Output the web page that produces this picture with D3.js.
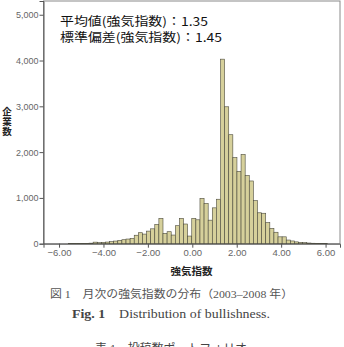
<!DOCTYPE html>
<html><head><meta charset="utf-8">
<script src="https://cdn.jsdelivr.net/npm/d3@7"></script>
<style>
html,body{margin:0;padding:0;background:#fff;overflow:hidden;}
svg{display:block;}
</style></head>
<body>
<svg id="chart" width="344" height="347"></svg>
<script>
// ---- data ----
const binWidth = 0.185;
const binLow = [
  -5.575,-5.390,-5.205,-5.020,-4.835,-4.650,-4.465,-4.280,-4.095,-3.910,
  -3.725,-3.540,-3.355,-3.170,-2.985,-2.800,-2.615,-2.430,-2.245,-2.060,
  -1.875,-1.690,-1.505,-1.320,-1.135,-0.950,-0.765,-0.580,-0.395,-0.210,
  -0.025,0.160,0.345,0.530,0.715,0.900,1.085,1.270,1.455,1.640,
  1.825,2.010,2.195,2.380,2.565,2.750,2.935,3.120,3.305,3.490,
  3.675,3.860,4.045,4.230,4.415,4.600,4.785,4.970,5.155,5.340,
  5.525,5.710,5.895
];
const counts = [
  3,4,5,6,8,12,34,22,29,36,
  44,58,73,87,102,118,185,240,210,275,
  325,422,553,226,262,189,393,553,430,167,
  554,522,990,880,514,783,971,4030,2990,2380,
  1880,1580,1950,1490,1370,940,675,665,460,335,
  250,150,150,80,60,40,30,22,15,10,
  7,5,3
];
const xTicks = [-6,-4,-2,0,2,4,6];
const yTicks = [0,1000,2000,3000,4000,5000];
const statLines = ["平均値(強気指数)：1.35", "標準偏差(強気指数)：1.45"];
const xTitle = "強気指数";
const yTitle = "企業数";
const captionJa = "図 1　月次の強気指数の分布（2003–2008 年）";
const captionEn = "Distribution of bullishness.";
const nextCaption = "表 1　投稿数ポートフォリオ";

// ---- layout ----
const svg = d3.select("#chart");
const L = 43.5, R = 340, T = 1, B = 243.7;
const x = d3.scaleLinear().domain([-6.7, 6.65]).range([L, R]);
const y = d3.scaleLinear().domain([0, 5300]).range([B, T]);
const sans = "'Liberation Sans', Arial, sans-serif";
const cjk = "'Noto Sans CJK JP', 'Noto Sans', sans-serif";
const serif = "'Liberation Serif', 'DejaVu Serif', 'Noto Sans CJK JP', serif";

// frame
svg.append("rect").attr("x", L).attr("y", T).attr("width", R - L).attr("height", B - T)
  .attr("fill", "#fff").attr("stroke", "#8a8a8a").attr("stroke-width", 1);

// bars
const bins = binLow.map((lo, i) => ({x0: lo, x1: lo + binWidth, n: counts[i]}));
svg.append("g").selectAll("rect").data(bins).join("rect")
  .attr("x", d => x(d.x0))
  .attr("width", d => x(d.x1) - x(d.x0))
  .attr("y", d => y(d.n))
  .attr("height", d => B - y(d.n))
  .attr("fill", "#d6d09b")
  .attr("stroke", "#4b4a3c")
  .attr("stroke-width", 0.6);

// y axis
const yAxis = d3.axisLeft(y).tickValues(yTicks).tickSize(4).tickPadding(1)
  .tickFormat(d3.format(","));
const gy = svg.append("g").attr("transform", `translate(${L},0)`).call(yAxis);
gy.select(".domain").attr("stroke", "#555");
gy.selectAll(".tick line").attr("stroke", "#555");
gy.selectAll(".tick text").attr("fill", "#666").style("font-family", sans).style("font-size", "9px");

// x axis
const xAxis = d3.axisBottom(x).tickValues(xTicks).tickSize(4).tickPadding(2)
  .tickFormat(d3.format(".2f"));
const gx = svg.append("g").attr("transform", `translate(0,${B})`).call(xAxis);
gx.select(".domain").attr("stroke", "#555");
gx.selectAll(".tick line").attr("stroke", "#555");
gx.selectAll(".tick text").attr("fill", "#666").style("font-family", sans).style("font-size", "9.5px");

// stats annotation
svg.append("g").selectAll("text").data(statLines).join("text")
  .attr("x", 60).attr("y", (d, i) => 26 + i * 15.5)
  .attr("textLength", (d, i) => i === 0 ? 148 : 162)
  .attr("lengthAdjust", "spacingAndGlyphs")
  .style("font-family", cjk).style("font-size", "12px").attr("fill", "#111")
  .text(d => d);

// axis titles
svg.append("text").attr("x", 191.5).attr("y", 274.5).attr("text-anchor", "middle")
  .style("font-family", cjk).style("font-size", "10.5px").style("font-weight", "bold")
  .attr("fill", "#222").text(xTitle);
svg.append("text").attr("x", 7).attr("y", 122).attr("text-anchor", "middle")
  .style("writing-mode", "vertical-rl").style("text-orientation", "upright")
  .style("font-family", cjk).style("font-size", "9.5px").style("font-weight", "bold")
  .style("letter-spacing", "0.5px")
  .attr("fill", "#222").text(yTitle);

// captions
svg.append("text").attr("x", 50).attr("y", 298).attr("textLength", 243)
  .attr("lengthAdjust", "spacingAndGlyphs")
  .style("font-family", serif).style("font-size", "11px").attr("fill", "#555")
  .text(captionJa);
const en = svg.append("text").attr("x", 72).attr("y", 317.5).attr("textLength", 198)
  .attr("lengthAdjust", "spacingAndGlyphs")
  .style("font-family", serif).style("font-size", "11.5px").attr("fill", "#444");
en.append("tspan").style("font-weight", "bold").text("Fig. 1");
en.append("tspan").text("　" + captionEn);
svg.append("text").attr("x", 95).attr("y", 353).attr("textLength", 152)
  .attr("lengthAdjust", "spacingAndGlyphs")
  .style("font-family", serif).style("font-size", "12px").attr("fill", "#444")
  .text(nextCaption);
</script>
</body></html>
